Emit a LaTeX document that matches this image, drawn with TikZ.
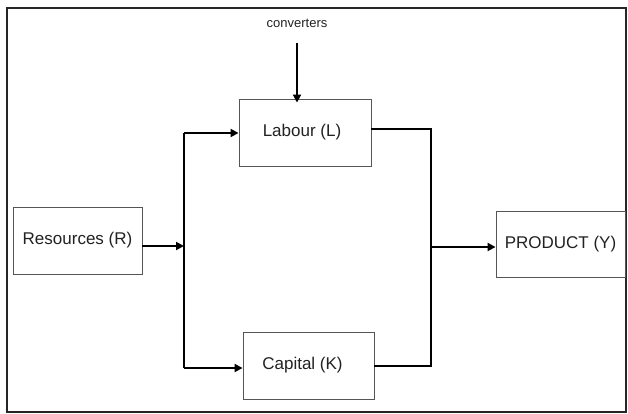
\documentclass[tikz,border=0pt]{standalone}
\usepackage{fontspec}
\setmainfont{Liberation Sans}
\usetikzlibrary{arrows.meta}
\definecolor{boxline}{HTML}{555555}
\definecolor{txt}{HTML}{222222}
\begin{document}
\begin{tikzpicture}[x=1pt,y=-1pt,
  blk/.style={draw=boxline,line width=0.9pt,rectangle,inner sep=0pt,text=txt,font=\fontsize{17}{20}\selectfont},
  flow/.style={line width=1.9pt,-{Triangle[length=8pt,width=8pt]}},
  link/.style={line width=1.7pt}]
\useasboundingbox (0,0) rectangle (628,414);
\fill[white] (0,0) rectangle (628,414);
\draw[line width=1.5pt,black!85] (7,8) rectangle (626,412);
\node[blk,minimum width=132pt,minimum height=67pt] (L) at (305,132.5) {\hspace*{-6pt}Labour (L)};
\node[blk,minimum width=131pt,minimum height=67pt] (K) at (308.5,365.5) {\hspace*{-12pt}Capital (K)};
\node[blk,minimum width=129pt,minimum height=67pt] (R) at (77.5,240.5) {Resources (R)};
\node[blk,minimum width=129pt,minimum height=66pt] (Y) at (560.5,244) {PRODUCT (Y)};
\node[text=txt,font=\fontsize{13}{15}\selectfont] (C) at (297,23) {converters};
\coordinate (ja) at (184,246);
\coordinate (jt) at (184,133);
\coordinate (jb) at (184,368);
\coordinate (ka) at (431,129);
\coordinate (kb) at (431,366);
\coordinate (kc) at (431,247);
\coordinate (c1) at (297,43);
\draw[flow] (R.east |- ja) -- (ja);
\draw[link] (jt) -- (jb);
\draw[flow] (jt) -- (L.west |- jt);
\draw[flow] (jb) -- (K.west |- jb);
\draw[link] (L.east |- ka) -- (ka) -- (kb) -- (K.east |- kb);
\draw[flow] (kc) -- (Y.west |- kc);
\draw[flow] (c1) -- ([yshift=-4pt]L.north -| c1);
\end{tikzpicture}
\end{document}
